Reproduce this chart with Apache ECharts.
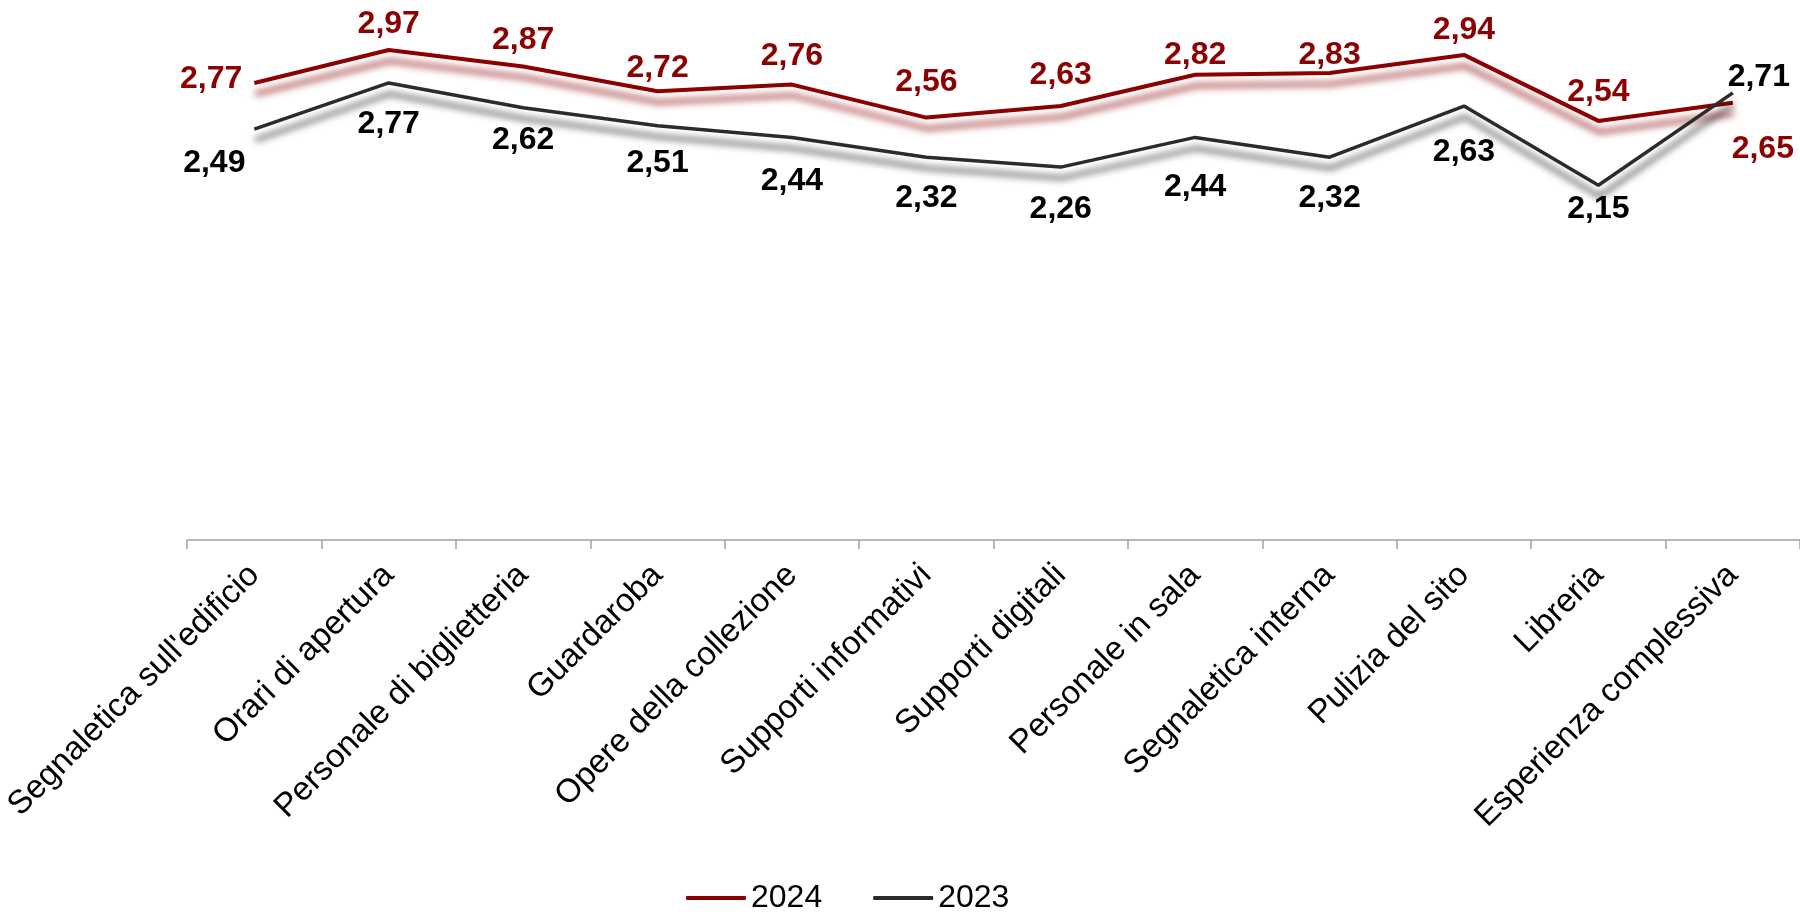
<!DOCTYPE html>
<html>
<head>
<meta charset="utf-8">
<script src="https://cdn.jsdelivr.net/npm/echarts@6/dist/echarts.min.js"></script>
<style>
  html, body { margin: 0; padding: 0; background: #fff; }
  #chart { width: 1800px; height: 914px; }
</style>
</head>
<body>
<div id="chart"></div>
<script>
// Satisfaction scores per service area, two survey years
const categories = [
  "Segnaletica sull'edificio", "Orari di apertura", "Personale di biglietteria",
  "Guardaroba", "Opere della collezione", "Supporti informativi",
  "Supporti digitali", "Personale in sala", "Segnaletica interna",
  "Pulizia del sito", "Libreria", "Esperienza complessiva"
];
const scores2024 = [2.77, 2.97, 2.87, 2.72, 2.76, 2.56, 2.63, 2.82, 2.83, 2.94, 2.54, 2.65];
const scores2023 = [2.49, 2.77, 2.62, 2.51, 2.44, 2.32, 2.26, 2.44, 2.32, 2.63, 2.15, 2.71];

const FONT = "'Liberation Sans', Arial, Helvetica, sans-serif";
const RED = '#8b0000';
const DARK = '#2b2b2b';

const fmt = p => p.value.toFixed(2).replace('.', ',');

// Hand-placed label nudges (vertical, px) so labels clear the lines
const nudge2024 = [0, 2, 2, 5, 0, -7, -3, 8, 10, 3, -1, 0];
const nudge2023 = [0, 2, -7, -2, 5, 2, 3, 11, 2, 7, -15, 0];

// Label placement for the end points where the two lines cross
const labelTweaks2024 = {
  0: { position: 'left', distance: 12, offset: [0, -4] },
  11: { position: 'bottom', distance: 18, offset: [30, 12] }
};
const labelTweaks2023 = {
  0: { position: 'bottom', distance: 18, offset: [-40, 0] },
  11: { position: 'top', distance: 0, offset: [26, 0] }
};

function withLabels(values, tweaks, nudges) {
  return values.map((v, i) => ({
    value: v,
    label: tweaks[i] ? tweaks[i] : { offset: [0, nudges[i]] }
  }));
}

const chart = echarts.init(document.getElementById('chart'), null, { renderer: 'canvas' });

const labelBase = {
  show: true,
  formatter: fmt,
  fontFamily: FONT,
  fontSize: 32,
  fontWeight: 'bold'
};

chart.setOption({
  animation: false,
  backgroundColor: '#ffffff',
  grid: { left: 187, right: 0, top: 45, bottom: 374 },
  legend: {
    left: 686,
    top: 882,
    padding: 0,
    itemWidth: 60,
    itemHeight: 4,
    itemGap: 51,
    textStyle: { fontFamily: FONT, fontSize: 32, color: '#000' },
    data: [
      { name: '2024', icon: 'roundRect' },
      { name: '2023', icon: 'roundRect' }
    ]
  },
  xAxis: {
    type: 'category',
    data: categories,
    boundaryGap: true,
    axisLine: { show: true, lineStyle: { color: '#a0a0a0', width: 1.5 } },
    axisTick: { show: true, length: 9, lineStyle: { color: '#a0a0a0', width: 1.5 } },
    axisLabel: {
      rotate: 45,
      margin: 30,
      interval: 0,
      fontFamily: FONT,
      fontSize: 33,
      color: '#000'
    }
  },
  yAxis: {
    type: 'value',
    min: 0,
    max: 3,
    show: false,
    splitLine: { show: false }
  },
  series: [
    {
      name: '2024',
      type: 'line',
      data: withLabels(scores2024, labelTweaks2024, nudge2024),
      symbol: 'circle',
      symbolSize: 0,
      showSymbol: true,
      itemStyle: { color: RED },
      lineStyle: {
        color: RED, width: 4,
        shadowColor: 'rgba(150,30,30,0.85)', shadowBlur: 7, shadowOffsetY: 11, shadowOffsetX: 1
      },
      label: Object.assign({}, labelBase, { position: 'top', distance: 12, color: RED }),
      z: 2
    },
    {
      name: '2023',
      type: 'line',
      data: withLabels(scores2023, labelTweaks2023, nudge2023),
      symbol: 'circle',
      symbolSize: 0,
      showSymbol: true,
      itemStyle: { color: DARK },
      lineStyle: {
        color: DARK, width: 3.5,
        shadowColor: 'rgba(0,0,0,0.7)', shadowBlur: 7, shadowOffsetY: 11, shadowOffsetX: 1
      },
      label: Object.assign({}, labelBase, { position: 'bottom', distance: 23, color: '#000' }),
      z: 3
    }
  ]
});
</script>
</body>
</html>
